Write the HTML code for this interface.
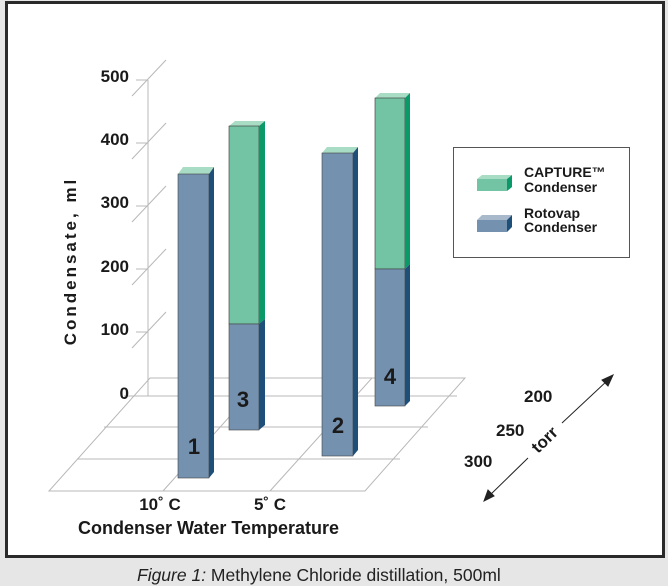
<!DOCTYPE html>
<html><head><style>
body{margin:0;width:668px;height:586px;background:#e6e6e6;overflow:hidden;font-family:"Liberation Sans",Arial,sans-serif}
</style></head><body>
<svg width="668" height="586" xmlns="http://www.w3.org/2000/svg" style="position:absolute;left:0;top:0">
<rect x="6.5" y="2.5" width="657" height="554" fill="#fff" stroke="#2a2a2a" stroke-width="3"/>
<g stroke="#b8b8b8" stroke-width="1" fill="none">
<line x1="148" y1="80" x2="148" y2="396"/>
<line x1="136" y1="80" x2="148" y2="80"/><line x1="132" y1="96" x2="166" y2="60"/>
<line x1="136" y1="143" x2="148" y2="143"/><line x1="132" y1="159" x2="166" y2="123"/>
<line x1="136" y1="206" x2="148" y2="206"/><line x1="132" y1="222" x2="166" y2="186"/>
<line x1="136" y1="269" x2="148" y2="269"/><line x1="132" y1="285" x2="166" y2="249"/>
<line x1="136" y1="332" x2="148" y2="332"/><line x1="132" y1="348" x2="166" y2="312"/>
<polygon points="150,378 465,378 365,491 49,491"/>
<line x1="124" y1="396" x2="457" y2="396"/>
<line x1="104" y1="427" x2="428" y2="427"/>
<line x1="77" y1="459" x2="400" y2="459"/>
<line x1="163" y1="491" x2="264" y2="378"/>
<line x1="270" y1="491" x2="372" y2="378"/>
</g>
<g font-weight="bold" font-size="17" fill="#1a1a1a" text-anchor="end">
<text x="129" y="82">500</text><text x="129" y="145">400</text><text x="129" y="208">300</text>
<text x="129" y="272">200</text><text x="129" y="335">100</text><text x="129" y="399">0</text>
</g>
<text transform="translate(76,261) rotate(-90)" text-anchor="middle" font-weight="bold" font-size="17" letter-spacing="3" fill="#1a1a1a">Condensate, ml</text>
<!-- bar 4 -->
<polygon points="375,98 405,98 410,93 380,93" fill="#a9dcc4"/>
<rect x="375" y="98" width="30" height="171" fill="#73c4a5" stroke="#333" stroke-width="0.6"/>
<polygon points="405,98 410,93 410,264 405,269" fill="#0a9a6a"/>
<rect x="375" y="269" width="30" height="137" fill="#7591b0" stroke="#444" stroke-width="0.6"/>
<polygon points="405,269 410,264 410,401 405,406" fill="#1e4f78"/>
<!-- bar 2 -->
<polygon points="322,153 353,153 358,147 327,147" fill="#a9dcc4"/>
<rect x="322" y="153" width="31" height="303" fill="#7591b0" stroke="#444" stroke-width="0.6"/>
<polygon points="353,153 358,147 358,450 353,456" fill="#1e4f78"/>
<!-- bar 3 -->
<polygon points="229,126 259,126 265,121 235,121" fill="#a9dcc4"/>
<rect x="229" y="126" width="30" height="198" fill="#73c4a5" stroke="#333" stroke-width="0.6"/>
<polygon points="259,126 265,121 265,319 259,324" fill="#0a9a6a"/>
<rect x="229" y="324" width="30" height="106" fill="#7591b0" stroke="#444" stroke-width="0.6"/>
<polygon points="259,324 265,319 265,425 259,430" fill="#1e4f78"/>
<!-- bar 1 -->
<polygon points="178,174 209,174 214,167 183,167" fill="#a9dcc4"/>
<rect x="178" y="174" width="31" height="304" fill="#7591b0" stroke="#444" stroke-width="0.6"/>
<polygon points="209,174 214,167 214,472 209,478" fill="#1e4f78"/>
<g font-weight="bold" font-size="22" fill="#1a1a1a" text-anchor="middle">
<text x="194" y="454">1</text><text x="243" y="407">3</text><text x="338" y="433">2</text><text x="390" y="384">4</text>
</g>
<g font-weight="bold" font-size="17" fill="#1a1a1a">
<text x="160" y="510" text-anchor="middle">10˚ C</text>
<text x="270" y="510" text-anchor="middle">5˚ C</text>
<text x="78" y="534" font-size="18">Condenser Water Temperature</text>
<text x="524" y="402">200</text><text x="496" y="436">250</text><text x="464" y="467">300</text>
<text transform="translate(538,454) rotate(-44)" font-size="17">torr</text>
</g>
<g stroke="#222" stroke-width="1" fill="#222">
<line x1="488" y1="497" x2="528" y2="458"/><line x1="562" y1="423" x2="608" y2="380"/>
<polygon points="484,501 488,490 494,496"/><polygon points="613,375 608,386 602,380"/>
</g>
<rect x="453.5" y="147.5" width="176" height="110" fill="#fff" stroke="#555" stroke-width="1"/>
<polygon points="477,179 507,179 512,175 482,175" fill="#a9dcc4"/>
<rect x="477" y="179" width="30" height="12" fill="#73c4a5"/>
<polygon points="507,179 512,175 512,187 507,191" fill="#0a9a6a"/>
<polygon points="477,220 507,220 512,215 482,215" fill="#a9b9cc"/>
<rect x="477" y="220" width="30" height="12" fill="#7591b0"/>
<polygon points="507,220 512,215 512,227 507,232" fill="#1e4f78"/>
<g font-weight="bold" font-size="14" fill="#1a1a1a">
<text x="524" y="177">CAPTURE™</text><text x="524" y="192">Condenser</text>
<text x="524" y="218">Rotovap</text><text x="524" y="232">Condenser</text>
</g>
<text x="137" y="581" font-size="17.5" fill="#222"><tspan font-style="italic">Figure 1:</tspan>  Methylene Chloride distillation, 500ml</text>
</svg>
</body></html>
